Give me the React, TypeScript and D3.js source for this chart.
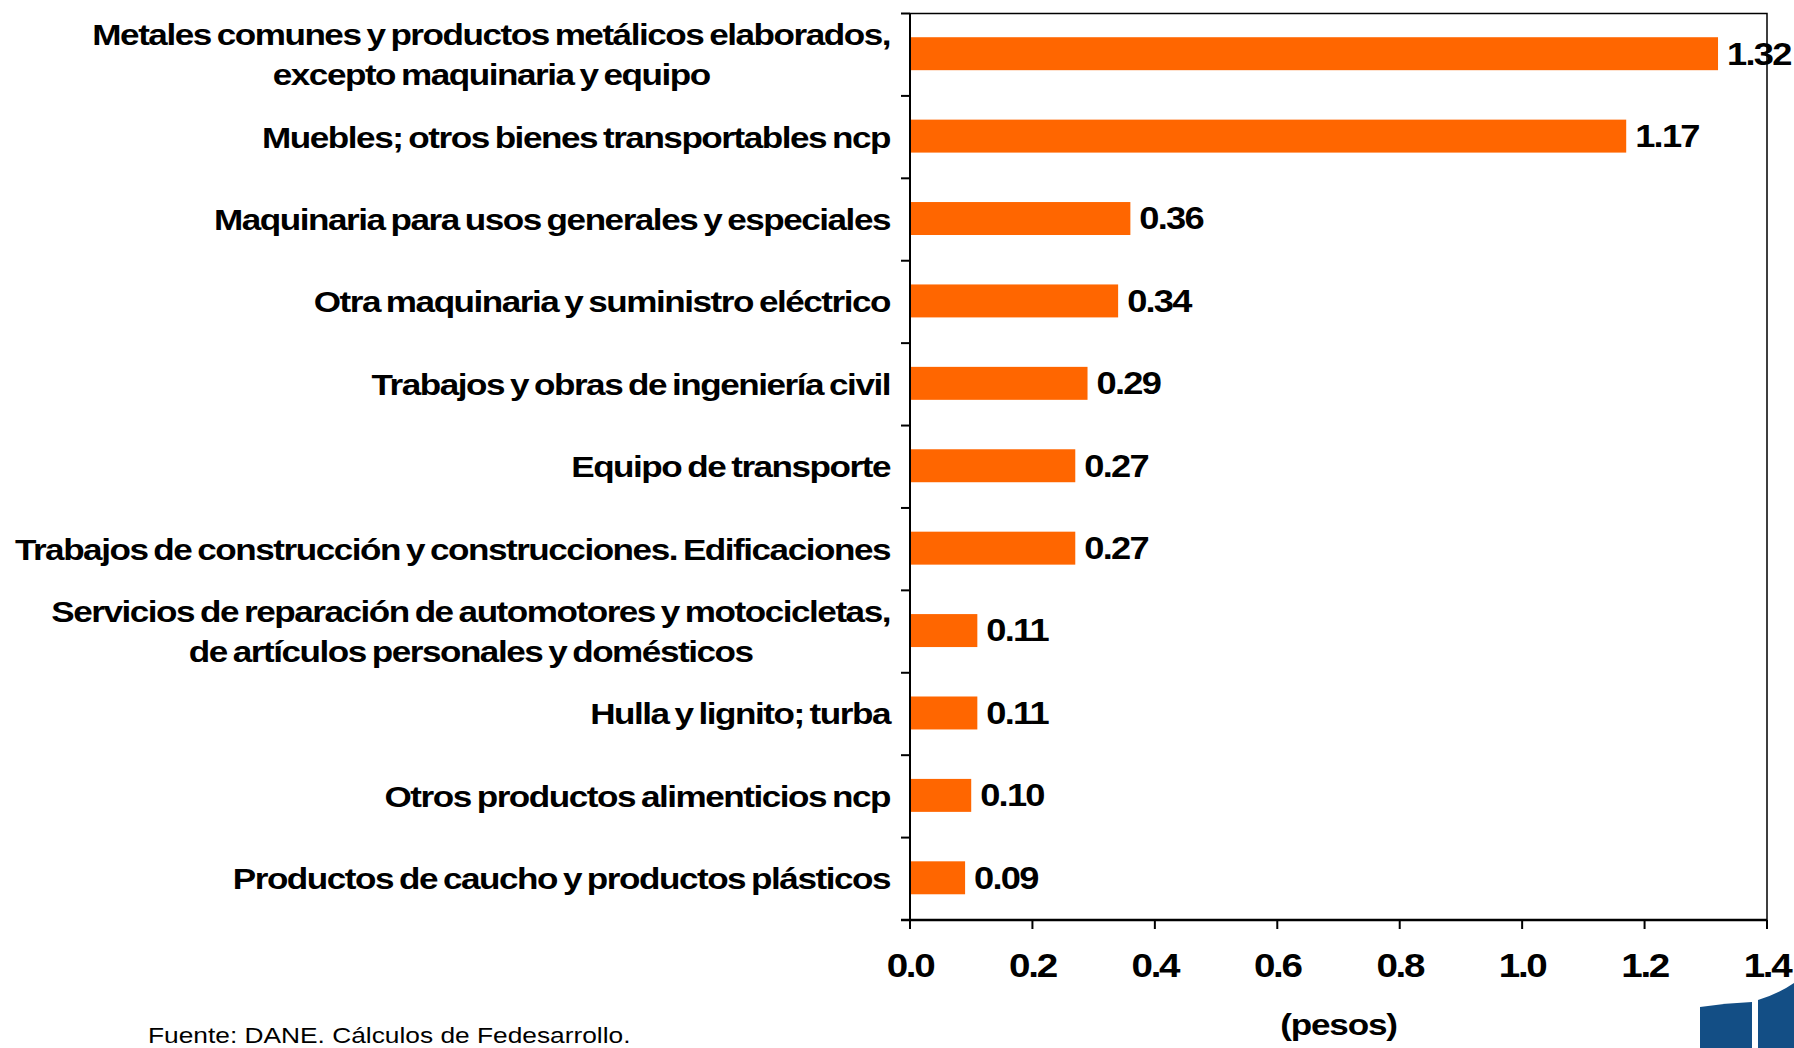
import React, { useEffect, useRef } from 'react';
import * as d3 from 'd3';

const categories: string[][] = [
  ['Metales comunes y productos metálicos elaborados,', 'excepto maquinaria y equipo'],
  ['Muebles; otros bienes transportables ncp'],
  ['Maquinaria para usos generales y especiales'],
  ['Otra maquinaria y suministro eléctrico'],
  ['Trabajos y obras de ingeniería civil'],
  ['Equipo de transporte'],
  ['Trabajos de construcción y construcciones. Edificaciones'],
  ['Servicios de reparación de automotores y motocicletas,', 'de artículos personales y domésticos'],
  ['Hulla y lignito; turba'],
  ['Otros productos alimenticios ncp'],
  ['Productos de caucho y productos plásticos'],
];
const values: number[] = [1.32, 1.17, 0.36, 0.34, 0.29, 0.27, 0.27, 0.11, 0.11, 0.1, 0.09];
const xTicks: number[] = [0, 0.2, 0.4, 0.6, 0.8, 1.0, 1.2, 1.4];
const xTitle = '(pesos)';
const source = 'Fuente: DANE. Cálculos de Fedesarrollo.';

const WIDTH = 1794;
const HEIGHT = 1048;
const FONT = 'Arial, "Liberation Sans", sans-serif';
// the original slide text is stretched sideways
const STRETCH = 1.17;

const App = () => {
  const svgRef = useRef<SVGSVGElement>(null);

  useEffect(() => {
    const svg = d3.select(svgRef.current);
    svg.selectAll('*').remove();

    const left = 910;
    const right = 1767;
    const top = 13.5;
    const bottom = 920;

    const x = d3.scaleLinear().domain([0, 1.4]).range([left, right]);
    const y = d3
      .scaleBand<number>()
      .domain(d3.range(categories.length))
      .range([top, bottom])
      .paddingInner(0.6)
      .paddingOuter(0.3);
    const step = y.step();

    // bars
    svg
      .selectAll('.bar')
      .data(values)
      .enter()
      .append('rect')
      .attr('class', 'bar')
      .attr('x', x(0))
      .attr('y', (_d, i) => (y(i) as number) - 1)
      .attr('width', (d) => x(d) - x(0))
      .attr('height', y.bandwidth())
      .attr('fill', '#ff6600');

    // frame (top, right)
    svg
      .append('path')
      .attr('d', `M${left},${top}H${right}V${bottom}`)
      .attr('fill', 'none')
      .attr('stroke', '#000')
      .attr('stroke-width', 1.5);

    // left axis with ticks at band boundaries
    const yAxis = svg.append('g');
    yAxis
      .append('line')
      .attr('x1', left)
      .attr('x2', left)
      .attr('y1', top)
      .attr('y2', bottom)
      .attr('stroke', '#000')
      .attr('stroke-width', 2);
    yAxis
      .selectAll('.ytick')
      .data(d3.range(categories.length + 1))
      .enter()
      .append('line')
      .attr('x1', left - 9)
      .attr('x2', left)
      .attr('y1', (i) => top + i * step)
      .attr('y2', (i) => top + i * step)
      .attr('stroke', '#000')
      .attr('stroke-width', 2);

    // bottom axis
    const xAxis = svg.append('g');
    xAxis
      .append('line')
      .attr('x1', left - 9)
      .attr('x2', right)
      .attr('y1', bottom)
      .attr('y2', bottom)
      .attr('stroke', '#000')
      .attr('stroke-width', 2.5);
    xAxis
      .selectAll('.xtick')
      .data(xTicks)
      .enter()
      .append('line')
      .attr('x1', (d) => x(d))
      .attr('x2', (d) => x(d))
      .attr('y1', bottom)
      .attr('y2', bottom + 9)
      .attr('stroke', '#000')
      .attr('stroke-width', 2);
    xAxis
      .selectAll('.xlabel')
      .data(xTicks)
      .enter()
      .append('text')
      .attr('transform', (d) => `translate(${x(d)},977) scale(${STRETCH},1)`)
      .attr('text-anchor', 'middle')
      .attr('font-family', FONT)
      .attr('font-weight', 'bold')
      .attr('font-size', 33)
      .attr('letter-spacing', -2)
      .attr('fill', '#000')
      .text((d) => d3.format('.1f')(d));

    svg
      .append('text')
      .attr('transform', `translate(${(left + right) / 2},1035) scale(${STRETCH},1)`)
      .attr('text-anchor', 'middle')
      .attr('font-family', FONT)
      .attr('font-weight', 'bold')
      .attr('font-size', 30)
      .attr('letter-spacing', -1)
      .text(xTitle);

    // category labels: right aligned block, lines centred on each other
    const labelRight = 890;
    categories.forEach((lines, i) => {
      const cy = (y(i) as number) + y.bandwidth() / 2;
      const g = svg
        .append('g')
        .attr('transform', `translate(${labelRight},${cy}) scale(${STRETCH},1)`);
      const texts = lines.map((line, j) =>
        g
          .append('text')
          .attr('x', 0)
          .attr('y', (j - (lines.length - 1) / 2) * 40)
          .attr('dy', '0.35em')
          .attr('text-anchor', 'end')
          .attr('font-family', FONT)
          .attr('font-weight', 'bold')
          .attr('font-size', 30)
          .attr('letter-spacing', -1.25)
          .attr('word-spacing', -2)
          .attr('fill', '#000')
          .text(line)
      );
      if (lines.length > 1) {
        const widths = texts.map((t) => (t.node() as SVGTextElement).getComputedTextLength());
        const maxW = Math.max(...widths);
        texts.forEach((t, j) => t.attr('x', -(maxW - widths[j]) / 2));
      }
    });

    // value labels
    svg
      .selectAll('.value')
      .data(values)
      .enter()
      .append('text')
      .attr(
        'transform',
        (d, i) => `translate(${x(d) + 9},${(y(i) as number) + y.bandwidth() / 2 - 1}) scale(${STRETCH},1)`
      )
      .attr('dy', '0.35em')
      .attr('font-family', FONT)
      .attr('font-weight', 'bold')
      .attr('font-size', 31)
      .attr('letter-spacing', -1.5)
      .attr('fill', '#000')
      .text((d) => d3.format('.2f')(d));

    // source note
    svg
      .append('text')
      .attr('transform', `translate(148,1043) scale(${STRETCH},1)`)
      .attr('font-family', FONT)
      .attr('font-size', 22.5)
      .attr('fill', '#000')
      .text(source);

    // logo fragment, bottom right corner
    const logo = svg.append('g').attr('fill', '#134e85');
    logo.append('path').attr('d', 'M1700,1007 Q1726,1003 1752,1002 V1048 H1700 Z');
    logo.append('path').attr('d', 'M1758,1000 Q1778,994 1794,983 V1048 H1758 Z');
  }, []);

  return (
    <svg
      ref={svgRef}
      width={WIDTH}
      height={HEIGHT}
      style={{ position: 'absolute', left: 0, top: 0, background: '#fff' }}
    />
  );
};

export default App;
